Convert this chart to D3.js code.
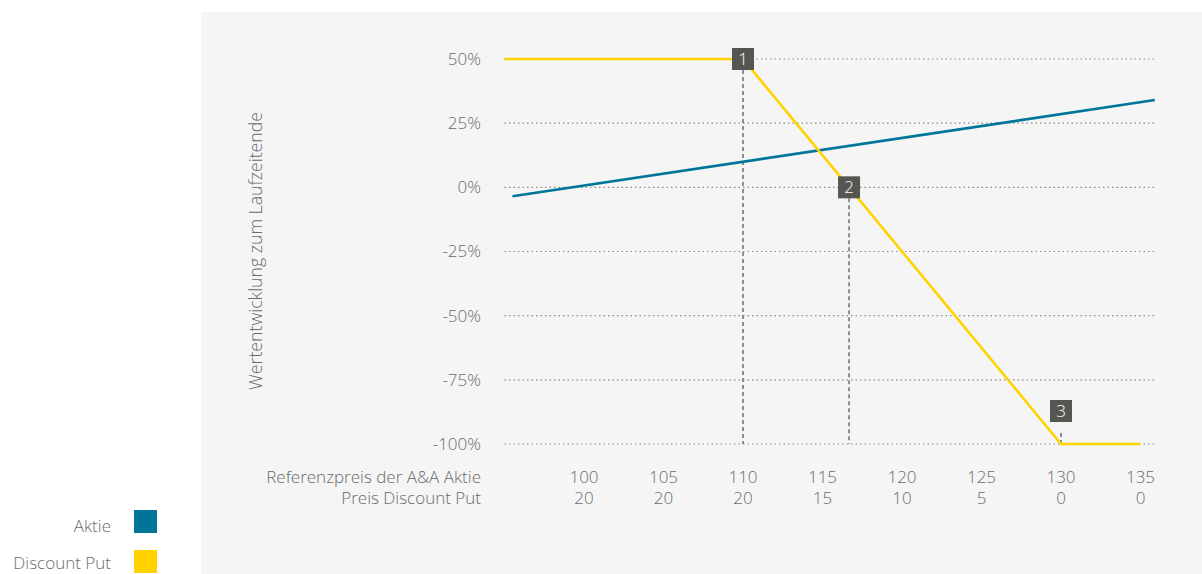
<!DOCTYPE html>
<html><head><meta charset="utf-8">
<script src="https://cdn.jsdelivr.net/npm/d3@7"></script>
<style>
body{margin:0;background:#fff;}
svg text{font-family:"Open Sans",sans-serif;font-weight:300;fill:#6b6b6b;}
</style></head><body>
<svg id="c" width="1202" height="574"></svg>
<script>
const xTicks = [100,105,110,115,120,125,130,135];
const putPrices = [20,20,20,15,10,5,0,0];
const yTicks = [50,25,0,-25,-50,-75,-100];
const aktieX = [95.5,135.9];
const aktieY = [-3.5,34];
const putX = [95,110,116.67,130,135];
const putY = [50,50,0,-100,-100];
const markers = [{n:"1",x:110,y:50},{n:"2",x:116.67,y:0},{n:"3",x:130,y:-100}];
const legend = [{name:"Aktie",color:"#00759a"},{name:"Discount Put",color:"#ffd200"}];
const rowLabels = ["Referenzpreis der A&A Aktie","Preis Discount Put"];

const FS = 17;
const svg = d3.select("#c");
svg.append("rect").attr("x",201).attr("y",12).attr("width",1001).attr("height",562).attr("fill","#f5f5f5");

const x = d3.scaleLinear().domain([100,135]).range([584,1140.5]);
const y = d3.scaleLinear().domain([-100,50]).range([444,59]);

// grid
const gridX0 = x(95), gridX1 = x(135.9);
svg.append("g").selectAll("line").data(yTicks).join("line")
  .attr("x1",gridX0).attr("x2",gridX1)
  .attr("y1",d=>y(d)).attr("y2",d=>y(d))
  .attr("stroke","#8a8a8a").attr("stroke-width",1.2).attr("stroke-dasharray","1.5,3");

// y labels
svg.append("g").selectAll("text").data(yTicks).join("text")
  .attr("x",481).attr("y",d=>y(d)).attr("dy","0.35em")
  .attr("text-anchor","end").attr("font-size",FS)
  .text(d=>d+"%");

// y title
svg.append("text").attr("transform","translate(262,251) rotate(-90)")
  .attr("text-anchor","middle").attr("font-size",17.7).text("Wertentwicklung zum Laufzeitende");

// x labels
svg.append("g").selectAll("text").data(xTicks).join("text")
  .attr("x",d=>x(d)).attr("y",483).attr("text-anchor","middle").attr("font-size",FS).text(d=>d);
svg.append("g").selectAll("text").data(putPrices).join("text")
  .attr("x",(d,i)=>x(xTicks[i])).attr("y",504).attr("text-anchor","middle").attr("font-size",FS).text(d=>d);
svg.append("g").selectAll("text").data(rowLabels).join("text")
  .attr("x",481).attr("y",(d,i)=>483+i*21).attr("text-anchor","end").attr("font-size",FS).text(d=>d);

// dashed marker lines
svg.append("g").selectAll("line").data(markers).join("line")
  .attr("x1",d=>x(d.x)).attr("x2",d=>x(d.x))
  .attr("y1",d=>y(d.y)-(d.n==="3"?22:0)+11).attr("y2",y(-100))
  .attr("stroke","#6e6e6e").attr("stroke-width",1.5).attr("stroke-dasharray","4,3");

const line = d3.line().x(d=>x(d[0])).y(d=>y(d[1]));
svg.append("path").datum(aktieX.map((v,i)=>[v,aktieY[i]])).attr("d",line)
  .attr("fill","none").attr("stroke","#00759a").attr("stroke-width",2.6);
svg.append("path").datum(putX.map((v,i)=>[v,putY[i]])).attr("d",line)
  .attr("fill","none").attr("stroke","#ffd200").attr("stroke-width",2.6);

// marker boxes
const mg = svg.append("g").selectAll("g").data(markers).join("g")
  .attr("transform",d=>`translate(${x(d.x)},${y(d.y)-(d.n==="3"?33:0)})`);
mg.append("rect").attr("x",-11).attr("y",-11).attr("width",22).attr("height",22).attr("fill","#555552");
mg.append("text").attr("text-anchor","middle").attr("dy","0.36em").attr("font-size",FS)
  .style("fill","#fff").text(d=>d.n);

// legend
const lg = svg.append("g").selectAll("g").data(legend).join("g")
  .attr("transform",(d,i)=>`translate(0,${521.5+i*40})`);
lg.append("rect").attr("x",134).attr("y",-11.5).attr("width",23).attr("height",23).attr("fill",d=>d.color);
lg.append("text").attr("x",111).attr("y",(d,i)=>i?2:5).attr("dy","0.35em").attr("text-anchor","end").attr("font-size",FS).text(d=>d.name);
</script></body></html>
